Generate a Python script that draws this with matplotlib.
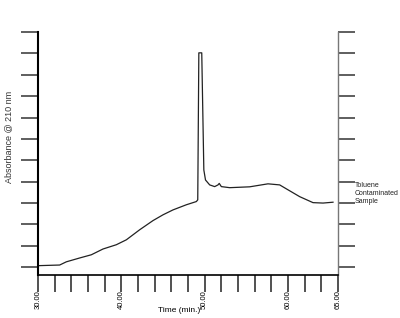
import matplotlib
matplotlib.use("Agg")
import matplotlib.pyplot as plt
import numpy as np

plt.rcParams['font.family'] = ['Liberation Sans', 'DejaVu Sans']

# trace (time in min, absorbance in tick units)
time = [30.0, 32.6, 33.4, 35.0, 36.4, 37.8, 39.4, 40.6, 42.2, 43.8, 45.0,
        46.2, 47.8, 49.0, 49.17, 49.3, 49.65, 49.9, 50.1, 50.6, 51.2, 51.6,
        51.75, 52.0, 53.0, 54.2, 55.4, 57.6, 59.0, 60.0, 61.4, 63.0, 64.2, 65.4]
absorb = [0.07, 0.10, 0.25, 0.43, 0.58, 0.85, 1.05, 1.28, 1.75, 2.18, 2.45,
          2.68, 2.92, 3.07, 3.15, 10.03, 10.03, 4.55, 4.08, 3.85, 3.77, 3.85,
          3.92, 3.77, 3.72, 3.74, 3.76, 3.90, 3.85, 3.62, 3.30, 3.02, 3.00, 3.04]

x_ticks = np.arange(30, 67, 2)
x_label_pos = [30, 40, 50, 60, 66]
x_label_txt = ['30.00', '40.00', '50.00', '60.00', '65.00']
y_ticks = np.arange(0, 12)

fig = plt.figure(figsize=(4.0, 3.18), dpi=100)
ax = fig.add_axes([0.095, 0.135, 0.75, 0.764])
ax.plot(time, absorb, color='#222222', lw=0.9)

ax.set_xlim(30, 66)
ax.set_ylim(-0.37, 11)
ax.set_xticks(x_ticks)
labels = []
for t in x_ticks:
    if t in x_label_pos:
        labels.append(x_label_txt[x_label_pos.index(t)])
    else:
        labels.append('')
ax.set_xticklabels(labels, rotation=90, fontsize=5.5)
ax.tick_params(axis='x', direction='out', length=12, width=1.1, color='#222222', pad=-1)

ax.set_yticks(y_ticks)
ax.set_yticklabels([])
ax.tick_params(axis='y', direction='out', length=12, width=1.1,
               left=True, right=True, color='#333333')

ax.spines['top'].set_visible(False)
ax.spines['left'].set_linewidth(1.5)
ax.spines['bottom'].set_linewidth(1.2)
ax.spines['right'].set_color('#777777')
ax.spines['right'].set_linewidth(1.0)

ax.set_ylabel('Absorbance @ 210 nm', fontsize=6.5, color='#333333')
ax.yaxis.set_label_coords(-0.083, 0.57)
ax.set_xlabel('Time (min.)', fontsize=6)
ax.xaxis.set_label_coords(0.47, -0.13)

ax.text(1.055, 0.335, 'Toluene\nContaminated\nSample', transform=ax.transAxes,
        fontsize=5, va='center', ha='left', linespacing=1.15, color='#222222')

plt.savefig('out.png', dpi=100)
